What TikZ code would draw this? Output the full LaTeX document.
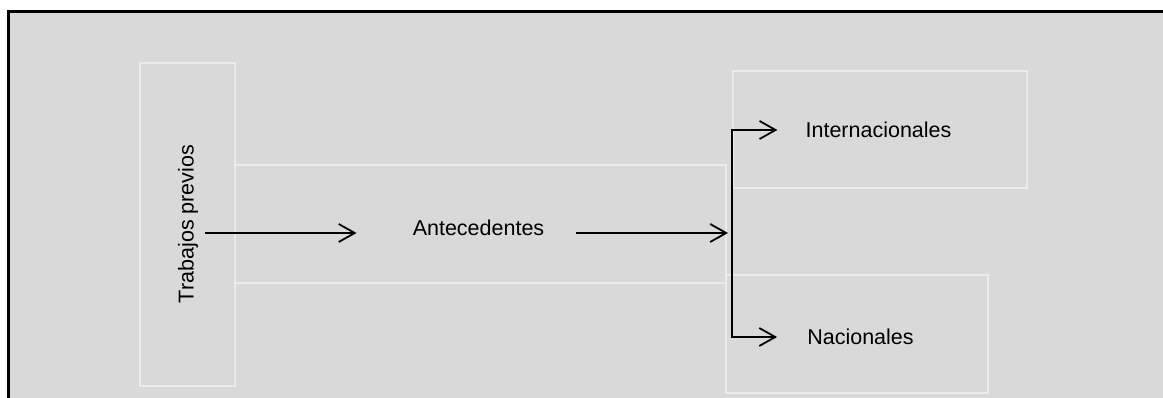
\documentclass[tikz,border=0pt]{standalone}
\usepackage{fontspec}
\setmainfont{Liberation Sans}
\usetikzlibrary{arrows.meta,positioning,calc}
\definecolor{tpFondo}{HTML}{D9D9D9}
\definecolor{tpBorde}{HTML}{EBEBEB}
\tikzset{
  marco/.style={draw=black, line width=3pt, fill=tpFondo},
  caja/.style={draw=tpBorde, line width=1.5pt, inner sep=0pt},
  etiqueta/.style={font=\fontsize{21.5}{25}\selectfont, inner sep=0pt, text=black},
  flecha/.style={-{Straight Barb[length=16pt,width=18pt]}, line width=1.8pt, black},
  rama/.style={line width=1.8pt, black}
}
\begin{document}
\begin{tikzpicture}[x=1pt, y=1pt]
  \useasboundingbox (0,0) rectangle (1163,398);
  \draw[marco] (8,386) rectangle (1180,-20);
  % cajas de fondo
  \node[caja, minimum width=95pt, minimum height=323pt] (cTrab) at (187.5,173.5) {};
  \node[caja, minimum width=491pt, minimum height=118pt] (cAnte) at (480.5,174) {};
  \node[caja, minimum width=294pt, minimum height=117pt] (cInt) at (880,268.5) {};
  \node[caja, minimum width=262pt, minimum height=118pt] (cNac) at (857,64) {};
  % textos
  \node[etiqueta, rotate=90] (tTrab) at (188,174) {Trabajos previos};
  \node[etiqueta] (tAnte) at (478.5,170) {Antecedentes};
  \node[etiqueta] (tInt) at (878.5,268) {Internacionales};
  \node[etiqueta] (tNac) at (860.5,61) {Nacionales};
  \coordinate (bif) at (732,165);
  \draw[flecha] ([xshift=7pt]tTrab.south |- bif) -- ([xshift=-56pt]tAnte.west |- bif);
  \draw[flecha] ([xshift=32pt]tAnte.east |- bif) -- ([xshift=-4pt]bif);
  \draw[flecha] (bif) |- ([xshift=-28pt]tInt.west);
  \draw[flecha] (bif) |- ([xshift=-30pt]tNac.west);
\end{tikzpicture}
\end{document}
